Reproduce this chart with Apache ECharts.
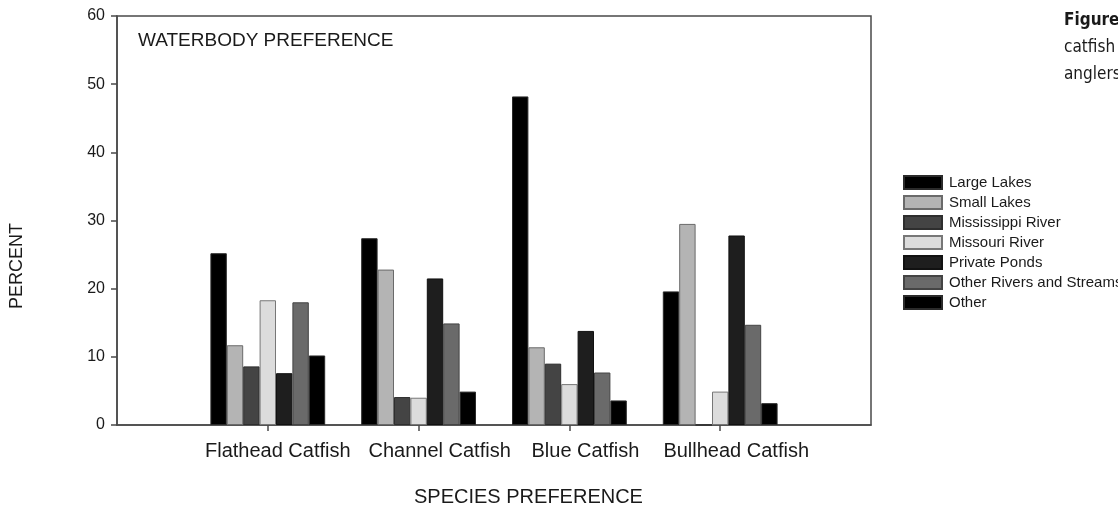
<!DOCTYPE html>
<html>
<head>
<meta charset="utf-8">
<script src="https://cdn.jsdelivr.net/npm/echarts@6/dist/echarts.min.js"></script>
<style>
  html, body { margin: 0; padding: 0; background: #ffffff; }
  #chart { width: 1118px; height: 510px; }
</style>
</head>
<body>
<div id="chart"></div>
<script>
// Species groups along the x axis
const species = ['Flathead Catfish', 'Channel Catfish', 'Blue Catfish', 'Bullhead Catfish'];

// Percent of anglers preferring each waterbody, per species
const largeLakes   = [25.2, 27.4, 48.2, 19.6];
const smallLakes   = [11.7, 22.8, 11.4, 29.5];
const mississippi  = [8.6, 4.1, 9.0, 0];
const missouri     = [18.3, 4.0, 6.0, 4.9];
const privatePonds = [7.6, 21.5, 13.8, 27.8];
const otherRivers  = [18.0, 14.9, 7.7, 14.7];
const other        = [10.2, 4.9, 3.6, 3.2];

const yTicks = [0, 10, 20, 30, 40, 50, 60];

const seriesDefs = [
  { name: 'Large Lakes', values: largeLakes, fill: '#000000', stroke: '#2a2a2a' },
  { name: 'Small Lakes', values: smallLakes, fill: '#b4b4b4', stroke: '#6a6a6a' },
  { name: 'Mississippi River', values: mississippi, fill: '#444444', stroke: '#2e2e2e' },
  { name: 'Missouri River', values: missouri, fill: '#dcdcdc', stroke: '#777777' },
  { name: 'Private Ponds', values: privatePonds, fill: '#1e1e1e', stroke: '#111111' },
  { name: 'Other Rivers and Streams', values: otherRivers, fill: '#6a6a6a', stroke: '#444444' },
  { name: 'Other', values: other, fill: '#000000', stroke: '#2a2a2a' }
];

// The axis runs from 0 to 5 with the groups sitting on the inner ticks,
// so pad the category list with an empty slot at each end.
const axisCats = [''].concat(species, ['']);
const pad = arr => ['-'].concat(arr, ['-']);

// Small per-label horizontal nudges for the species names
const labelShift = [10, 21, 16, 16];
const rich = {};
species.forEach((s, i) => {
  rich['c' + i] = {
    fontFamily: 'Liberation Sans, Arial, sans-serif',
    fontSize: 20,
    color: '#1a1a1a',
    padding: [0, 0, 0, labelShift[i] * 2]
  };
});

const chart = echarts.init(document.getElementById('chart'), null, { renderer: 'canvas' });

chart.setOption({
  animation: false,
  backgroundColor: '#ffffff',
  textStyle: { fontFamily: 'Liberation Sans, Arial, sans-serif' },
  grid: {
    left: 117, right: 247, top: 16, bottom: 85,
    show: true, borderColor: '#4a4a4a', borderWidth: 1.5,
    backgroundColor: 'transparent'
  },
  legend: {
    orient: 'vertical',
    left: 903, top: 175,
    padding: 0,
    itemWidth: 38, itemHeight: 13,
    itemGap: 5,
    icon: 'rect',
    textStyle: { fontSize: 15, color: '#1a1a1a', padding: [0, 0, 0, 2] },
    data: seriesDefs.map(d => d.name)
  },
  xAxis: {
    type: 'category',
    data: axisCats,
    boundaryGap: false,
    axisLine: { show: true, lineStyle: { color: '#4a4a4a', width: 1.5 } },
    axisTick: {
      show: true, inside: false, length: 6,
      interval: (idx) => idx > 0 && idx < axisCats.length - 1,
      lineStyle: { color: '#4a4a4a', width: 1.5 }
    },
    axisLabel: {
      show: true,
      interval: 0,
      margin: 16,
      formatter: (val) => {
        const i = species.indexOf(val);
        return i < 0 ? '' : '{c' + i + '|' + val + '}';
      },
      rich: rich
    },
    splitLine: { show: false }
  },
  yAxis: {
    type: 'value',
    min: yTicks[0],
    max: yTicks[yTicks.length - 1],
    interval: yTicks[1] - yTicks[0],
    axisLine: { show: true, lineStyle: { color: '#4a4a4a', width: 1.5 } },
    axisTick: { show: true, inside: false, length: 6, lineStyle: { color: '#4a4a4a', width: 1.5 } },
    axisLabel: { fontSize: 16, color: '#1a1a1a', margin: 12 },
    splitLine: { show: false }
  },
  series: seriesDefs.map(d => ({
    name: d.name,
    type: 'bar',
    data: pad(d.values),
    barWidth: 16.4,
    barGap: '0%',
    itemStyle: { color: d.fill, borderColor: d.stroke, borderWidth: 1 },
    emphasis: { disabled: true }
  })),
  graphic: [
    {
      type: 'text', left: 138, top: 31,
      style: { text: 'WATERBODY PREFERENCE', fontSize: 19, fill: '#1a1a1a',
               fontFamily: 'Liberation Sans, Arial, sans-serif' }
    },
    {
      type: 'text', left: 414, top: 487,
      style: { text: 'SPECIES PREFERENCE', fontSize: 20, fill: '#1a1a1a',
               fontFamily: 'Liberation Sans, Arial, sans-serif' }
    },
    {
      type: 'text', x: 17, y: 266, rotation: Math.PI / 2,
      style: { text: 'PERCENT', fontSize: 18, fill: '#1a1a1a', align: 'center', verticalAlign: 'middle',
               fontFamily: 'Liberation Sans, Arial, sans-serif' }
    },
    {
      type: 'text', left: 1064, top: 12,
      style: { text: 'Figure', fontSize: 17, fontWeight: 'bold', fill: '#1a1a1a',
               fontFamily: 'Liberation Sans Narrow, DejaVu Sans Condensed, sans-serif' }
    },
    {
      type: 'text', left: 1064, top: 39,
      style: { text: 'catfish', fontSize: 17, fill: '#1a1a1a',
               fontFamily: 'Liberation Sans Narrow, DejaVu Sans Condensed, sans-serif' }
    },
    {
      type: 'text', left: 1064, top: 66,
      style: { text: 'anglers', fontSize: 17, fill: '#1a1a1a',
               fontFamily: 'Liberation Sans Narrow, DejaVu Sans Condensed, sans-serif' }
    }
  ]
});
</script>
</body>
</html>
